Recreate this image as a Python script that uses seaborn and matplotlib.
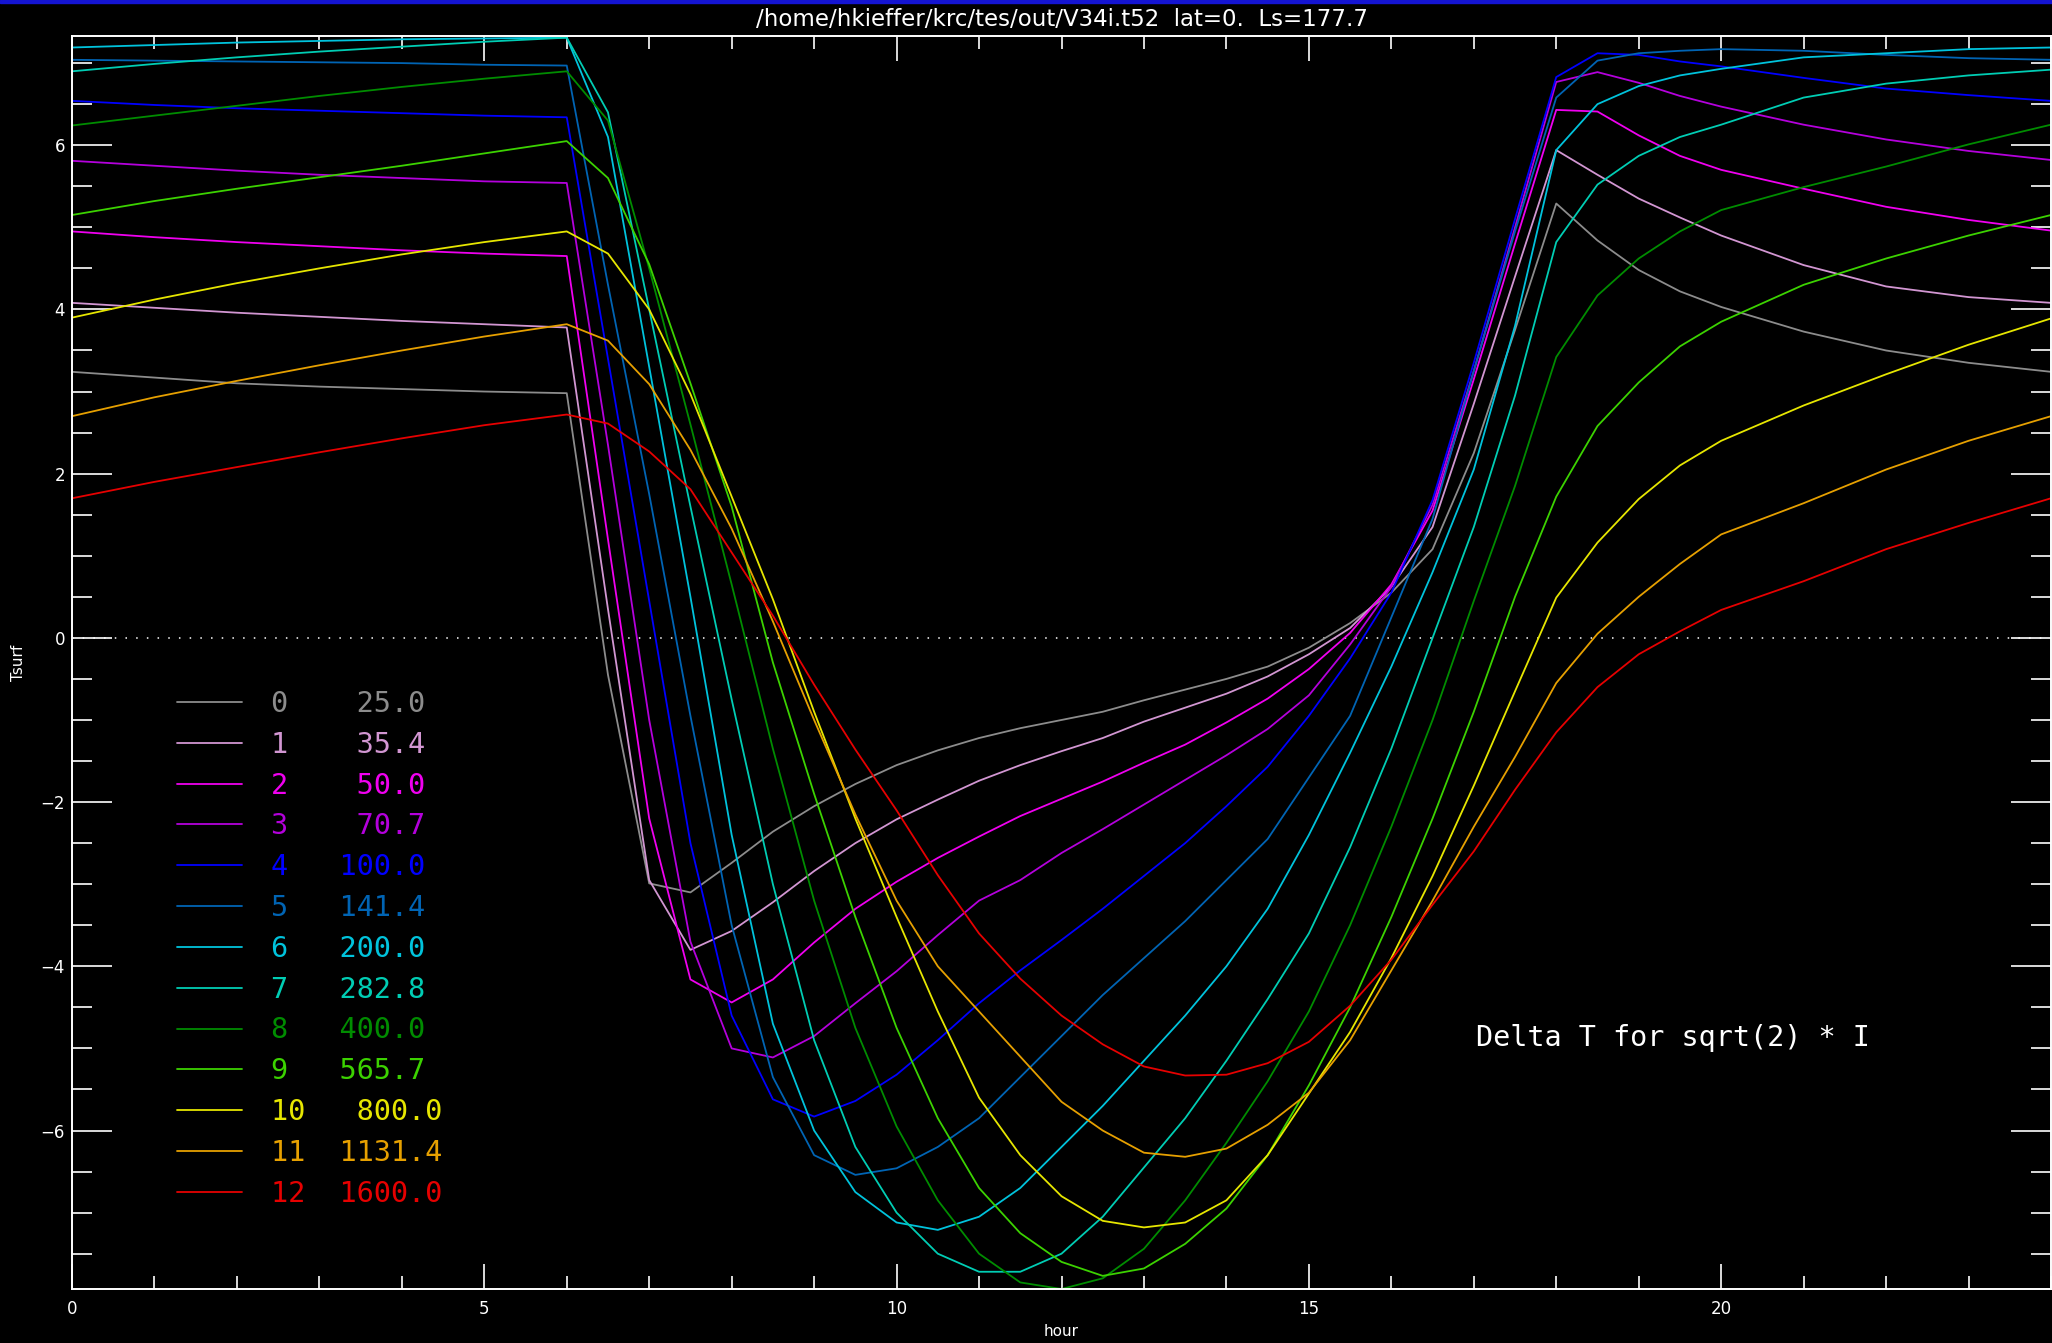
import numpy as np
import pandas as pd
import matplotlib
matplotlib.use("Agg")
import matplotlib.pyplot as plt
from matplotlib.lines import Line2D
from matplotlib.patches import Rectangle
from matplotlib.ticker import MultipleLocator
import seaborn as sns

# ============================
# DATA
# ============================

HOURS = [0, 1, 2, 3, 4, 5, 6, 6.5, 7, 7.5, 8, 8.5, 9, 9.5, 10, 10.5, 11, 11.5, 12,
         12.5, 13, 13.5, 14, 14.5, 15, 15.5, 16, 16.5, 17, 17.5, 18, 18.5, 19, 19.5,
         20, 21, 22, 23, 24]

CASE_IDS = list(range(13))
INERTIA = [25.0, 35.4, 50.0, 70.7, 100.0, 141.4, 200.0, 282.8, 400.0, 565.7, 800.0, 1131.4, 1600.0]

DT_0 = [3.24, 3.17, 3.10, 3.06, 3.03, 3.00, 2.98, -0.45, -2.99, -3.10, -2.74, -2.36, -2.05,
        -1.78, -1.55, -1.37, -1.22, -1.10, -1.00, -0.90, -0.76, -0.63, -0.50, -0.35, -0.12,
        0.18, 0.55, 1.08, 2.25, 3.75, 5.29, 4.84, 4.48, 4.22, 4.03, 3.73, 3.50, 3.35, 3.24]
DT_1 = [4.08, 4.02, 3.96, 3.91, 3.86, 3.82, 3.78, 0.35, -2.95, -3.80, -3.57, -3.22, -2.84,
        -2.50, -2.21, -1.97, -1.74, -1.55, -1.38, -1.22, -1.02, -0.85, -0.68, -0.47, -0.20,
        0.12, 0.62, 1.35, 2.85, 4.40, 5.94, 5.64, 5.35, 5.12, 4.90, 4.54, 4.28, 4.15, 4.08]
DT_2 = [4.95, 4.88, 4.82, 4.77, 4.72, 4.68, 4.65, 1.20, -2.20, -4.16, -4.44, -4.16, -3.71,
        -3.30, -2.97, -2.68, -2.42, -2.17, -1.96, -1.75, -1.52, -1.30, -1.03, -0.74, -0.38,
        0.06, 0.65, 1.55, 3.15, 4.80, 6.43, 6.41, 6.12, 5.87, 5.70, 5.47, 5.25, 5.09, 4.96]
DT_3 = [5.81, 5.75, 5.69, 5.64, 5.60, 5.56, 5.54, 2.35, -1.00, -3.70, -5.00, -5.11, -4.85,
        -4.45, -4.06, -3.62, -3.20, -2.95, -2.62, -2.33, -2.03, -1.73, -1.43, -1.11, -0.70,
        -0.08, 0.62, 1.62, 3.25, 5.00, 6.77, 6.89, 6.76, 6.60, 6.47, 6.25, 6.07, 5.93, 5.82]
DT_4 = [6.54, 6.49, 6.45, 6.42, 6.39, 6.36, 6.34, 3.40, 0.45, -2.50, -4.60, -5.62, -5.83,
        -5.64, -5.32, -4.90, -4.45, -4.05, -3.68, -3.30, -2.90, -2.50, -2.05, -1.57, -0.95,
        -0.25, 0.55, 1.68, 3.35, 5.10, 6.83, 7.12, 7.10, 7.02, 6.96, 6.82, 6.69, 6.61, 6.54]
DT_5 = [7.04, 7.03, 7.02, 7.01, 7.00, 6.98, 6.97, 4.30, 1.75, -0.95, -3.50, -5.35, -6.30,
        -6.54, -6.46, -6.20, -5.85, -5.35, -4.85, -4.35, -3.90, -3.45, -2.95, -2.45, -1.70,
        -0.95, 0.25, 1.45, 3.25, 4.95, 6.58, 7.03, 7.12, 7.15, 7.17, 7.15, 7.10, 7.06, 7.04]
DT_6 = [7.19, 7.22, 7.25, 7.27, 7.29, 7.30, 7.31, 6.10, 3.30, 0.50, -2.40, -4.70, -6.00,
        -6.75, -7.12, -7.21, -7.05, -6.70, -6.20, -5.70, -5.15, -4.60, -4.00, -3.30, -2.40,
        -1.40, -0.35, 0.80, 2.05, 3.80, 5.94, 6.50, 6.72, 6.85, 6.93, 7.07, 7.12, 7.17, 7.19]
DT_7 = [6.90, 6.99, 7.07, 7.14, 7.20, 7.26, 7.31, 6.40, 4.00, 1.60, -0.75, -3.00, -4.90,
        -6.20, -7.00, -7.50, -7.72, -7.72, -7.50, -7.05, -6.45, -5.85, -5.15, -4.40, -3.60,
        -2.55, -1.35, 0.00, 1.35, 2.95, 4.82, 5.52, 5.87, 6.10, 6.25, 6.58, 6.75, 6.85, 6.92]
DT_8 = [6.24, 6.36, 6.48, 6.60, 6.71, 6.81, 6.90, 6.30, 4.50, 2.60, 0.65, -1.35, -3.20,
        -4.75, -5.95, -6.85, -7.50, -7.85, -7.93, -7.80, -7.44, -6.85, -6.15, -5.40, -4.55,
        -3.50, -2.30, -1.00, 0.45, 1.85, 3.42, 4.17, 4.62, 4.95, 5.21, 5.49, 5.74, 6.01, 6.25]
DT_9 = [5.15, 5.32, 5.47, 5.61, 5.75, 5.90, 6.05, 5.60, 4.55, 3.10, 1.60, -0.30, -1.90,
        -3.40, -4.75, -5.85, -6.70, -7.25, -7.60, -7.77, -7.68, -7.38, -6.95, -6.30, -5.45,
        -4.50, -3.40, -2.20, -0.90, 0.50, 1.72, 2.58, 3.11, 3.55, 3.85, 4.30, 4.62, 4.90, 5.15]
DT_10 = [3.90, 4.12, 4.32, 4.50, 4.67, 4.82, 4.95, 4.68, 4.00, 2.97, 1.72, 0.47, -0.90,
         -2.20, -3.40, -4.55, -5.60, -6.30, -6.80, -7.10, -7.18, -7.12, -6.85, -6.30, -5.55,
         -4.80, -3.90, -2.90, -1.80, -0.65, 0.49, 1.16, 1.69, 2.10, 2.40, 2.83, 3.21, 3.57, 3.89]
DT_11 = [2.70, 2.93, 3.13, 3.32, 3.50, 3.67, 3.82, 3.62, 3.09, 2.29, 1.33, 0.20, -1.00,
         -2.15, -3.20, -4.00, -4.55, -5.10, -5.65, -6.00, -6.27, -6.32, -6.22, -5.93, -5.54,
         -4.90, -4.05, -3.20, -2.30, -1.45, -0.55, 0.05, 0.50, 0.90, 1.26, 1.64, 2.05, 2.40, 2.70]
DT_12 = [1.70, 1.90, 2.08, 2.26, 2.43, 2.59, 2.72, 2.61, 2.27, 1.81, 1.04, 0.27, -0.57,
         -1.36, -2.10, -2.89, -3.60, -4.15, -4.60, -4.95, -5.22, -5.33, -5.32, -5.18, -4.92,
         -4.48, -3.92, -3.25, -2.60, -1.85, -1.15, -0.60, -0.20, 0.08, 0.34, 0.69, 1.08, 1.40, 1.70]

SERIES = [DT_0, DT_1, DT_2, DT_3, DT_4, DT_5, DT_6, DT_7, DT_8, DT_9, DT_10, DT_11, DT_12]

COLORS = ["#8c8c8c", "#d296d2", "#f000f0", "#b400dc", "#0000ff", "#0064b4", "#00c3dc",
          "#00cdb4", "#008c00", "#3cd200", "#e6e600", "#e6a000", "#e60000"]

TITLE = "/home/hkieffer/krc/tes/out/V34i.t52  lat=0.  Ls=177.7"
NOTE = "Delta T for sqrt(2) * I"

# ============================
# LONG TABLE FOR SEABORN
# ============================

rows = []
for cid, vals in zip(CASE_IDS, SERIES):
    for h, v in zip(HOURS, vals):
        rows.append({"hour": h, "dT": v, "case": str(cid)})
df = pd.DataFrame(rows)
order = [str(c) for c in CASE_IDS]

# ============================
# PLOT
# ============================

sns.set_theme(style="ticks", rc={
    "figure.facecolor": "black", "axes.facecolor": "black", "axes.edgecolor": "white",
    "axes.labelcolor": "white", "text.color": "white", "xtick.color": "white",
    "ytick.color": "white", "axes.grid": False,
})
plt.rcParams["font.family"] = ["DejaVu Sans"]

W, H = 2052, 1343
fig = plt.figure(figsize=(W / 100, H / 100), dpi=100)
ax = fig.add_axes([72 / W, 54 / H, 1979 / W, 1253 / H])

sns.lineplot(data=df, x="hour", y="dT", hue="case", hue_order=order, palette=COLORS,
             sort=False, estimator=None, legend=False, linewidth=1.3, ax=ax)

ax.axhline(0, color="white", lw=1.1, linestyle=(0, (1, 6)), zorder=0)

ax.set_xlim(0, 24)
ax.set_ylim(-7.93, 7.33)

for side in ax.spines.values():
    side.set_color("white")
    side.set_linewidth(1.4)

ax.xaxis.set_major_locator(MultipleLocator(5))
ax.xaxis.set_minor_locator(MultipleLocator(1))
ax.yaxis.set_major_locator(MultipleLocator(2))
ax.yaxis.set_minor_locator(MultipleLocator(0.5))
ax.tick_params(axis="x", which="major", direction="in", length=18, width=1.2,
               top=True, bottom=True, labelsize=12, pad=8)
ax.tick_params(axis="x", which="minor", direction="in", length=9.5, width=1.2, top=True)
ax.tick_params(axis="y", which="major", direction="in", length=29, width=1.2,
               left=True, right=True, labelsize=12, pad=5)
ax.tick_params(axis="y", which="minor", direction="in", length=14.5, width=1.2, right=True)

ax.set_xlabel("hour", fontsize=11)
ax.set_ylabel("Tsurf", fontsize=11)
ax.xaxis.set_label_coords(0.5, -0.028)
ax.yaxis.set_label_coords(-0.023, 0.5)

# legend: index and thermal inertia in the line colour
handles = [Line2D([], [], color=c, lw=1.3) for c in COLORS]
labels = [f"{i}  {v:6.1f}" for i, v in zip(CASE_IDS, INERTIA)]
ax.legend(handles, labels, loc="upper left", bbox_to_anchor=(177 / W, 1 - 690 / H),
          bbox_transform=fig.transFigure, frameon=False,
          prop={"family": "DejaVu Sans Mono", "size": 20.5}, labelcolor="linecolor",
          handlelength=2.3, handletextpad=1.0, labelspacing=0.45,
          borderpad=0, borderaxespad=0)

fig.text(1476 / W, 1 - 1038 / H, NOTE, family="DejaVu Sans Mono", fontsize=20.5,
         color="white", ha="left", va="center")
fig.text(1062 / W, 1 - 19 / H, TITLE, fontsize=16.5, color="white", ha="center", va="center")

# blue strip along the top of the window
fig.add_artist(Rectangle((0, 1 - 3 / H), 1, 3 / H, transform=fig.transFigure,
                         color="#1414d2", zorder=5))

fig.savefig("out.png", dpi=100, facecolor="black")
